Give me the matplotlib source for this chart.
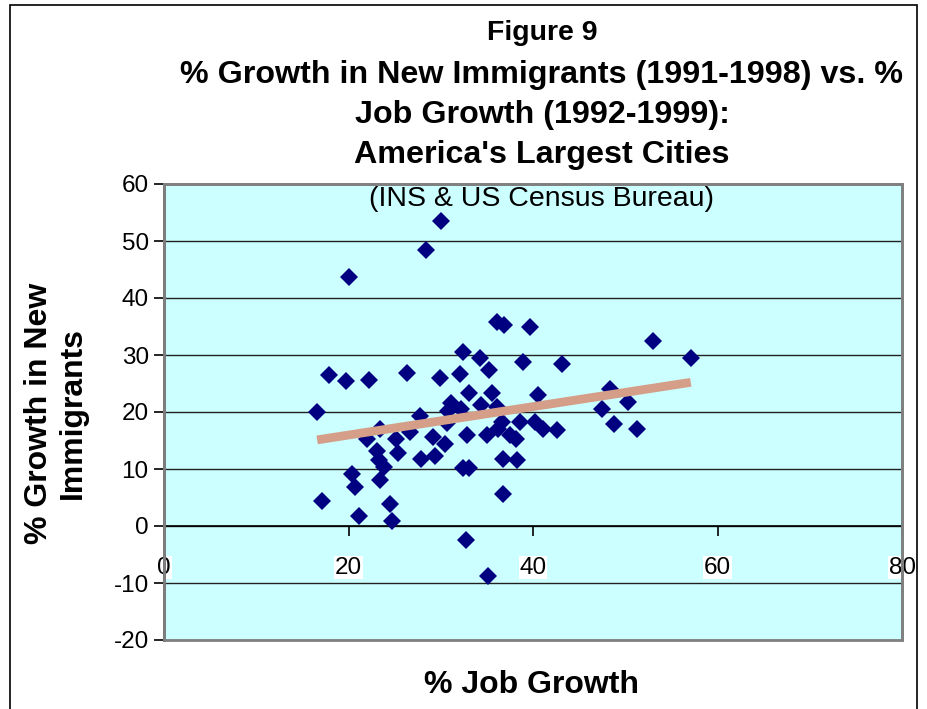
import matplotlib
matplotlib.use("Agg")
import matplotlib.pyplot as plt
from matplotlib.patches import Rectangle
import numpy as np

plt.rcParams['font.family'] = ['Liberation Sans', 'DejaVu Sans']
plt.rcParams['axes.unicode_minus'] = False

# % job growth (1992-1999) and % growth in new immigrants (1991-1998), one pair per city
job_growth = [16.6, 17.1, 17.9, 19.7, 20.0, 20.4, 20.7, 21.1, 22.2, 22.0,
              23.1, 23.3, 23.4, 23.4, 23.9, 24.5, 24.7, 25.2, 25.4, 26.3,
              26.7, 27.8, 27.9, 28.4, 29.2, 29.4, 29.9, 30.0, 30.5, 30.8,
              31.1, 32.1, 32.4, 32.2, 32.4, 33.1, 32.8, 33.1, 32.7, 34.3,
              34.4, 35.0, 35.1, 35.2, 35.6, 36.1, 36.9, 36.1, 36.2, 36.6,
              36.7, 36.7, 37.5, 38.2, 38.3, 38.6, 38.9, 39.7, 40.5, 40.2,
              41.1, 42.6, 43.1, 47.5, 48.4, 48.8, 50.3, 51.3, 53.0, 57.1,
              30.7]
immigrant_growth = [20.0, 4.4, 26.5, 25.4, 43.6, 9.1, 6.9, 1.8, 25.7, 15.2,
                    13.2, 11.6, 17.0, 8.1, 10.4, 3.9, 0.9, 15.2, 12.8, 26.9,
                    16.5, 19.3, 11.8, 48.4, 15.7, 12.2, 25.9, 53.5, 14.4, 20.2,
                    21.6, 26.6, 30.5, 20.6, 10.1, 10.1, 16.0, 23.3, -2.5, 29.5,
                    21.2, 16.0, -8.7, 27.3, 23.3, 35.8, 35.3, 20.9, 17.1, 18.3,
                    11.8, 5.6, 16.0, 15.3, 11.5, 18.2, 28.7, 35.0, 22.9, 18.2,
                    17.1, 16.8, 28.5, 20.5, 24.0, 17.9, 21.8, 17.1, 32.5, 29.5,
                    18.0]

x_ticks = [0, 20, 40, 60, 80]
y_ticks = [-20, -10, 0, 10, 20, 30, 40, 50, 60]

title_lines = ["Figure 9",
               "% Growth in New Immigrants (1991-1998) vs. %",
               "Job Growth (1992-1999):",
               "America's Largest Cities"]
source_note = "(INS & US Census Bureau)"

fig = plt.figure(figsize=(9.27, 7.09), dpi=100)
ax = fig.add_axes([164/927, 1-640/709, 738/927, 456/709])

ax.set_facecolor('#CCFFFF')
ax.set_xlim(0, 80)
ax.set_ylim(-20, 60)

# horizontal gridlines
for yv in y_ticks:
    ax.axhline(yv, color='#202020', lw=1.0, zorder=1)

ax.plot(job_growth, immigrant_growth, linestyle='none', marker='D',
        markersize=9.5, color='#000080', markeredgewidth=0, zorder=3)

# linear trendline over the range of the data
slope, intercept = np.polyfit(job_growth, immigrant_growth, 1)
xs = np.array([min(job_growth), max(job_growth)])
ax.plot(xs, slope*xs + intercept, color='#D49E88', lw=6.3,
        solid_capstyle='butt', zorder=4)

# axes / border
ax.spines['bottom'].set_position(('data', 0))
ax.spines['bottom'].set_color('black')
ax.spines['bottom'].set_linewidth(1.2)
ax.spines['left'].set_color('#404040')
ax.spines['left'].set_linewidth(2)
for s in ['top', 'right']:
    ax.spines[s].set_color('#808080')
    ax.spines[s].set_linewidth(2)
ax.add_patch(Rectangle((0, 0), 1, 1, transform=ax.transAxes, fill=False,
                       edgecolor='#808080', lw=2, zorder=5, clip_on=False))

ax.set_xticks(x_ticks)
ax.set_yticks(y_ticks)
ax.tick_params(axis='x', direction='out', length=7, width=1.2, pad=15,
               labelsize=17.5, colors='black')
ax.tick_params(axis='y', direction='out', length=7, width=1.2, pad=4,
               labelsize=17.5)
for lbl in ax.get_xticklabels():
    lbl.set_bbox(dict(facecolor='white', edgecolor='none', pad=0.5))

ax.text(0.512, 0.995, source_note, transform=ax.transAxes, ha='center', va='top',
        fontsize=20.5)

# titles
fig.text(542/927, 1 - 33/709, title_lines[0], ha='center', va='center',
         fontsize=20.5, fontweight='bold')
for line, yp in zip(title_lines[1:], [75, 115, 155]):
    fig.text(542/927, 1 - yp/709, line, ha='center', va='center',
             fontsize=23.2, fontweight='bold')

fig.text(56/927, 1 - 413/709, "% Growth in New\nImmigrants", rotation=90,
         ha='center', va='center', fontsize=23, fontweight='bold',
         linespacing=1.15)
fig.text(531/927, 1 - 685/709, "% Job Growth", ha='center', va='center',
         fontsize=23, fontweight='bold')

# outer chart border
fig.add_artist(Rectangle((10/927, -0.02), 907/927, 1.02 - 5/709,
                         transform=fig.transFigure, fill=False,
                         edgecolor='black', lw=1.2))

fig.savefig("out.png", dpi=100)
